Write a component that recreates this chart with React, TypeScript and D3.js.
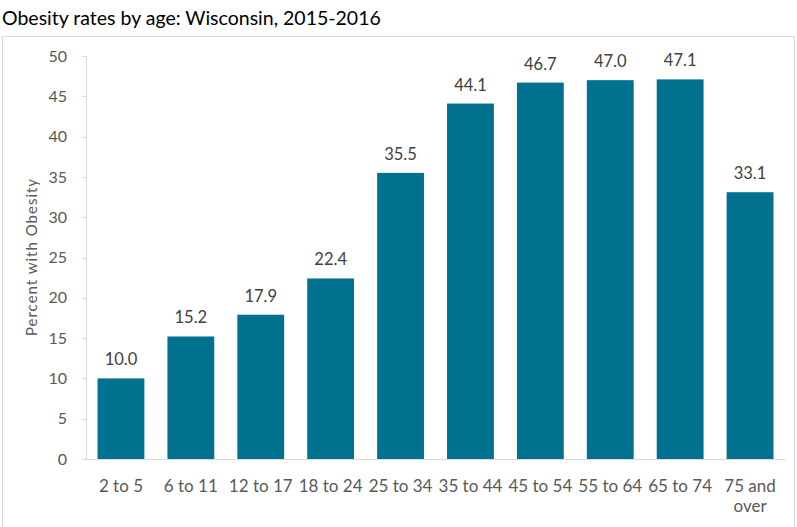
import React from "react";
import * as d3 from "d3";

const categories = ["2 to 5", "6 to 11", "12 to 17", "18 to 24", "25 to 34", "35 to 44", "45 to 54", "55 to 64", "65 to 74", "75 and over"];
const values = [10.0, 15.2, 17.9, 22.4, 35.5, 44.1, 46.7, 47.0, 47.1, 33.1];
const yTicks = [0, 5, 10, 15, 20, 25, 30, 35, 40, 45, 50];
const title = "Obesity rates by age: Wisconsin, 2015-2016";
const yTitle = "Percent with Obesity";

const W = 797, H = 527;
const left = 86, right = 785, top = 56, bottom = 459;
const FONT = "Lato, 'Open Sans', sans-serif";

export default function App() {
  const x = d3.scaleBand<string>().domain(categories).range([left, right]).paddingInner(0.33).paddingOuter(0.165);
  const y = d3.scaleLinear().domain([0, 50]).range([bottom, top]);

  const wrap = (s: string) => {
    if (s === "75 and over") return ["75 and", "over"];
    return [s];
  };

  return (
    <svg width={W} height={H} style={{ position: "absolute", left: 0, top: 0, display: "block", background: "#fff" }}>
      <rect x={2.5} y={36.5} width={792} height={500} fill="none" stroke="#d9d9d9" strokeWidth={1} />
      <text x={2} y={25} fontFamily={FONT} fontSize={19.5} fill="#000">{title}</text>
      {/* y axis */}
      <line x1={left + 0.5} x2={left + 0.5} y1={top} y2={bottom} stroke="#d9d9d9" />
      {yTicks.map((t) => (
        <g key={t}>
          <line x1={left - 4} x2={left} y1={Math.round(y(t)) + 0.5} y2={Math.round(y(t)) + 0.5} stroke="#d9d9d9" />
          <text x={67} y={y(t)} dy="0.35em" textAnchor="end" fontFamily={FONT} fontSize={16} fill="#595959">{t}</text>
        </g>
      ))}
      <text transform={`translate(37,${257}) rotate(-90)`} textAnchor="middle" fontFamily={FONT} fontSize={15} letterSpacing={1} fill="#595959">{yTitle}</text>
      {/* bars */}
      {categories.map((c, i) => (
        <g key={c}>
          <rect x={x(c)} y={y(values[i])} width={x.bandwidth()} height={bottom - y(values[i])} fill="#00718f" />
          <text x={(x(c) as number) + x.bandwidth() / 2} y={y(values[i]) - 13} textAnchor="middle" fontFamily={FONT} fontSize={16.5} fill="#404040">{values[i].toFixed(1)}</text>
          {wrap(c).map((line, j) => (
            <text key={j} x={(x(c) as number) + x.bandwidth() / 2} y={492 + j * 20} textAnchor="middle" fontFamily={FONT} fontSize={17} fill="#595959">{line}</text>
          ))}
        </g>
      ))}
      <line x1={left} x2={right} y1={bottom + 0.5} y2={bottom + 0.5} stroke="#d9d9d9" />
    </svg>
  );
}
